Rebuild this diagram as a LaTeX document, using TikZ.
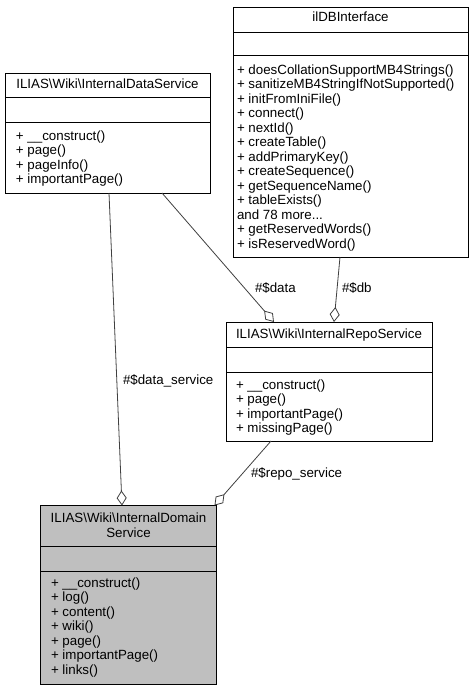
\documentclass[tikz,border=0pt]{standalone}
\usepackage{fontspec}
\setmainfont{Liberation Sans}
\usetikzlibrary{arrows.meta}
\definecolor{edgegray}{HTML}{404040}
\definecolor{domfill}{HTML}{BFBFBF}
\begin{document}
\begin{tikzpicture}[x=1pt,y=-1pt,
  every node/.style={font=\fontsize{13.33}{14.5}\selectfont, inner sep=0pt, outer sep=0pt},
  box/.style={draw=black, line width=0.8pt, fill=white, anchor=north west},
  txt/.style={anchor=base west},
  ttl/.style={anchor=base},
  sep/.style={draw=black, line width=0.8pt},
  agg/.style={draw=edgegray, line width=0.8pt, -{Diamond[length=15pt, width=10pt, fill=white, line width=0.8pt]}},
  elabel/.style={anchor=base west}
]
\useasboundingbox[fill=white] (0,0) rectangle (475,691);

% ---- ILIAS\Wiki\InternalDataService
\node[box, minimum width=205pt, minimum height=120pt] (ds) at (5,73) {};
\draw[sep] (ds.west |- 0,97) -- (ds.east |- 0,97);
\draw[sep] (ds.west |- 0,122) -- (ds.east |- 0,122);
\node[ttl] (dsT) at (107.5,88) {ILIAS\textbackslash Wiki\textbackslash InternalDataService};
\node[txt] (ds1) at (16,140) {+ \_\_construct()};
\node[txt] (ds2) at (16,154.5) {+ page()};
\node[txt] (ds3) at (16,169) {+ pageInfo()};
\node[txt] (ds4) at (16,183.5) {+ importantPage()};

% ---- ilDBInterface
\node[box, minimum width=235pt, minimum height=250pt] (db) at (233,7) {};
\draw[sep] (db.west |- 0,32) -- (db.east |- 0,32);
\draw[sep] (db.west |- 0,55) -- (db.east |- 0,55);
\node[ttl] (dbT) at (350.5,21) {ilDBInterface};
\node[txt] (db1) at (237,74) {+ doesCollationSupportMB4Strings()};
\node[txt] (db2) at (237,88.5) {+ sanitizeMB4StringIfNotSupported()};
\node[txt] (db3) at (237,103) {+ initFromIniFile()};
\node[txt] (db4) at (237,117.5) {+ connect()};
\node[txt] (db5) at (237,132) {+ nextId()};
\node[txt] (db6) at (237,146.5) {+ createTable()};
\node[txt] (db7) at (237,161) {+ addPrimaryKey()};
\node[txt] (db8) at (237,175.5) {+ createSequence()};
\node[txt] (db9) at (237,190) {+ getSequenceName()};
\node[txt] (db10) at (237,204.5) {+ tableExists()};
\node[txt] (db11) at (237,219) {and 78 more...};
\node[txt] (db12) at (237,233.5) {+ getReservedWords()};
\node[txt] (db13) at (237,248) {+ isReservedWord()};

% ---- ILIAS\Wiki\InternalRepoService
\node[box, minimum width=206pt, minimum height=119pt] (rs) at (226,322) {};
\draw[sep] (rs.west |- 0,347.5) -- (rs.east |- 0,347.5);
\draw[sep] (rs.west |- 0,372.5) -- (rs.east |- 0,372.5);
\node[ttl] (rsT) at (329,338) {ILIAS\textbackslash Wiki\textbackslash InternalRepoService};
\node[txt] (rs1) at (236,389) {+ \_\_construct()};
\node[txt] (rs2) at (236,403.5) {+ page()};
\node[txt] (rs3) at (236,418) {+ importantPage()};
\node[txt] (rs4) at (236,432.5) {+ missingPage()};

% ---- ILIAS\Wiki\InternalDomainService
\node[box, fill=domfill, minimum width=176pt, minimum height=179pt] (dm) at (40.5,505.5) {};
\draw[sep] (dm.west |- 0,546) -- (dm.east |- 0,546);
\draw[sep] (dm.west |- 0,571) -- (dm.east |- 0,571);
\node[ttl] (dmT1) at (128.5,522) {ILIAS\textbackslash Wiki\textbackslash InternalDomain};
\node[ttl] (dmT2) at (128.5,537) {Service};
\node[txt] (dm1) at (51,587) {+ \_\_construct()};
\node[txt] (dm2) at (51,601.5) {+ log()};
\node[txt] (dm3) at (51,616) {+ content()};
\node[txt] (dm4) at (51,630.5) {+ wiki()};
\node[txt] (dm5) at (51,645) {+ page()};
\node[txt] (dm6) at (51,659.5) {+ importantPage()};
\node[txt] (dm7) at (51,674) {+ links()};

% ---- connectors
\draw[agg] ([xshift=1.5pt]ds.south) -- ([xshift=-6.5pt]dm.north);
\draw[agg] ([xshift=54.5pt]ds.south) -- ([xshift=-55pt]rs.north);
\draw[agg] ([xshift=-10.5pt]db.south) -- ([xshift=5pt]rs.north);
\draw[agg] ([xshift=-58pt]rs.south) -- ([xshift=86pt]dm.north);

% ---- edge labels
\node[elabel] (l1) at (123,384) {\#\$data\_service};
\node[elabel] (l2) at (255,292) {\#\$data};
\node[elabel] (l3) at (342,292) {\#\$db};
\node[elabel] (l4) at (251,477) {\#\$repo\_service};
\end{tikzpicture}
\end{document}
